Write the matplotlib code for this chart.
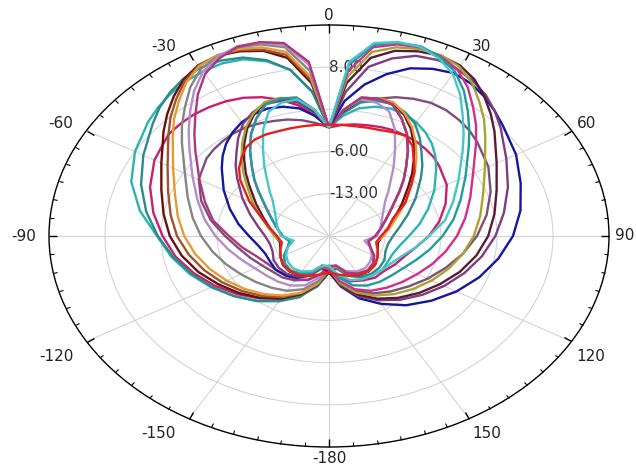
import matplotlib
matplotlib.use("Agg")
import matplotlib.pyplot as plt
import numpy as np

theta_deg = [-180, -170, -160, -150, -140, -130, -120, -110, -100, -90, -80, -70, -60, -50,
             -45, -40, -35, -30, -25, -20, -15, -10, -5, 0, 5, 10, 15, 20, 25, 30, 35, 40, 45,
             50, 60, 70, 80, 90, 100, 110, 120, 130, 140, 150, 160, 170]

# beams tilted to the left
teal_l = [-14, -11.5, -9.5, -7.6, -6, -4.5, -3, -1.5, 0, 1.5, 4, 6.3, 8, 9.5,
          10.2, 10.8, 11.3, 11.5, 11.6, 11.2, 10, 8, 4, -2, 0, 1.5, 2.2, 2.5, 2.3, 1.8, 1, 0, -1.2,
          -2.5, -4.8, -6.8, -8.5, -10, -11, -11.5, -11.5, -11.3, -11.5, -12, -13, -15]
darkteal_l = [-14, -11.6, -9.2, -7.5, -5.9, -4.5, -3.1, -1.7, -0.2, 1.4, 3.2, 5, 6.8, 8.8,
              10, 11, 11.8, 12.2, 12.1, 11.5, 10.2, 8, 4, -2, 0.5, 2.5, 3.2, 3.3, 2.6, 1.5, -0.2, -2,
              -3.5, -5, -7.5, -9.5, -11, -12, -12.5, -12.5, -12, -11.8, -11.8, -12.2, -13, -14.5]
maroon_l = [-14, -11.8, -9.7, -8, -6.6, -5.3, -4, -2.6, -1.3, -0.1, 1, 2.3, 4.2, 7,
            8.6, 10.2, 11.7, 12.7, 13, 12.6, 11.8, 10, 5.5, -2, 0.8, 3, 3.6, 3.5, 2.2, 0.5, -1.5,
            -3.5, -5.3, -7, -9.5, -11.3, -12.5, -13.3, -13.8, -13.5, -13, -12.5, -12.3, -12.5,
            -13.3, -14.8]
brown_l = [-14.2, -11.9, -9.9, -8.3, -7, -5.8, -4.6, -3.4, -2.2, -1, 0.1, 1.4, 3.3, 6.2,
           8, 9.7, 11.4, 12.6, 13, 12.8, 12, 10.5, 6, -2, 1, 3.3, 3.6, 3.2, 1.5, -0.5, -2.8, -5,
           -6.8, -8.5, -11, -12.5, -13.5, -14.2, -15, -14.5, -13.5, -12.8, -12.5, -12.8, -13.5, -15]
orange_l = [-14.5, -12, -10, -8.6, -7.4, -6.3, -5.2, -4.1, -3, -1.9, -0.8, 0.5, 2.5, 5.5,
            7.4, 9.2, 11.1, 12.5, 13.1, 13, 12.4, 11, 6.5, -2, 1, 3.2, 3.7, 3.6, 2.4, 0.8, -1.1, -3,
            -4.8, -6.5, -9, -11, -12.3, -13.2, -14, -13.6, -13, -12.6, -12.4, -12.6, -13.4, -14.8]
gray_l = [-14.5, -12.4, -10.6, -9.5, -8.8, -8.1, -7.3, -6.3, -5.2, -4, -2.7, -1.2, 0.8, 4,
          6, 8, 10.2, 12, 12.9, 13.3, 12.9, 11.8, 7.5, -2, 1, 3.3, 3.6, 3.2, 1.5, -0.5, -2.8, -5,
          -6.8, -8.5, -11, -12.5, -13.5, -14.2, -15, -14.5, -13.5, -12.8, -12.5, -12.8, -13.5, -15]
plum_l = [-15, -13, -11.3, -10.5, -10.1, -9.8, -9.3, -8.4, -7.2, -5.8, -4.2, -2.5, -0.3, 2.8,
          4.8, 7, 9.4, 11.5, 12.8, 13.5, 13.2, 12.2, 8.5, -2, 1, 3, 2.9, 2, -0.5, -3.5, -5.9, -8,
          -9.5, -10.8, -12.2, -13, -13.5, -14, -15.5, -14.5, -13.8, -13.3, -13, -13.2, -13.8, -15]
magenta_l = [-15, -13.5, -12.2, -11.7, -11.5, -11.3, -11, -10.3, -9, -7.5, -5.3, -3.5, -1.3, 1.8,
             3.8, 6, 8.6, 11, 12.5, 13.4, 13.3, 12.5, 9, -2, 1, 3.3, 3.6, 3.2, 1.5, -0.5, -2.8, -5,
             -6.8, -8.5, -11, -12.5, -13.5, -14.2, -15, -14.5, -13.5, -12.8, -12.5, -12.8, -13.5,
             -15]
crimson = [-14, -11.5, -9.5, -8, -6.5, -5, -3.5, -2, -0.5, 0.8, 2.3, 3.8, 5.2, 6.2,
           6.3, 6.3, 6.1, 5.8, 5.3, 4.5, 3.4, 2, 0, -2, -1.5, -1.2, -1, -0.8, -0.7, -0.8, -0.9,
           -1.2, -1.5, -2, -3, -4.5, -6, -7.5, -9, -10, -10.5, -11, -11, -11.5, -12, -13]

# beams tilted to the right
navy = [-14, -15, -13, -12, -11.5, -11.3, -11.5, -11.5, -11, -10, -8.5, -6.8, -4.8, -2.5,
        -1.2, 0, 1, 1.8, 2.3, 2.5, 2.2, 1.5, 0, -2, 2.5, 5.5, 7.8, 9.6, 10.6, 11.2, 10.9, 10.2,
        9.3, 8.4, 7, 5.5, 4.3, 3, 1.5, 0, -1.6, -3.3, -5, -7, -9, -11.5]
purple = [-14, -14.5, -13, -12.2, -11.8, -11.8, -12, -12.5, -12.5, -12, -11, -9.5, -7.5, -5,
          -3.5, -2, -0.2, 1.5, 2.6, 3.3, 3.2, 2.5, 0.5, -2, 4, 8.5, 10.5, 11.8, 12.2, 12, 11.4,
          10.5, 9.3, 8, 5.6, 3.8, 2.2, 0.8, -0.6, -2, -3.4, -4.8, -6.2, -7.7, -9.4, -11.7]
darkmaroon_r = [-14, -14.8, -13.3, -12.5, -12.3, -12.5, -13, -13.5, -13.8, -13.3, -12.5, -11.3,
                -9.5, -7, -5.3, -3.5, -1.5, 0.5, 2.2, 3.5, 3.6, 3, 0.8, -2, 5.5, 10, 11.8, 12.6, 13,
                12.7, 11.7, 10.2, 8.6, 7, 4.2, 2.3, 1, -0.1, -1.3, -2.6, -4, -5.3, -6.6, -8, -9.7,
                -11.8]
olive_r = [-14.5, -14.8, -13.4, -12.6, -12.4, -12.6, -13, -13.6, -14, -13.2, -12.3, -11, -9, -6.5,
           -4.8, -3, -1.1, 0.8, 2.4, 3.6, 3.7, 3.2, 1, -2, 6.5, 11, 12.4, 13, 13.1, 12.5, 11.1,
           9.2, 7.4, 5.5, 2.5, 0.5, -0.8, -1.9, -3, -4.1, -5.2, -6.3, -7.4, -8.6, -10, -12]
magenta_r = [-14.5, -15, -13.5, -12.8, -12.5, -12.8, -13.5, -14.5, -15, -14.2, -13.5, -12.5, -11,
             -8.5, -6.8, -5, -2.8, -0.5, 1.5, 3.2, 3.6, 3.3, 1, -2, 7.5, 11.8, 12.9, 13.3, 12.9, 12,
             10.2, 8, 6, 4, 0.8, -1.2, -2.7, -4, -5.2, -6.3, -7.3, -8.1, -8.8, -9.5, -10.6, -12.4]
teal_r = [-15, -15, -13.5, -12.8, -12.5, -12.8, -13.5, -14.5, -15, -14.2, -13.5, -12.5, -11, -8.5,
          -6.8, -5, -2.8, -0.5, 1.5, 3.2, 3.6, 3.3, 1, -2, 8.5, 12.2, 13.2, 13.5, 12.8, 11.5, 9.4,
          7, 4.8, 2.8, -0.3, -2.5, -4.2, -5.8, -7.2, -8.4, -9.3, -9.8, -10.1, -10.5, -11.3, -13]
cyan_r = [-15, -15, -13.8, -13.2, -13, -13.3, -13.8, -14.5, -15.5, -14, -13.5, -13, -12.2, -10.8,
          -9.5, -8, -5.9, -3.5, -0.5, 2, 2.9, 3, 1, -2, 9, 12.5, 13.3, 13.4, 12.5, 11, 8.6, 6,
          3.8, 1.8, -1.3, -3.5, -5.3, -7.5, -9, -10.3, -11, -11.3, -11.5, -11.7, -12.2, -13.5]
mauve_r = [-14, -13.5, -12.3, -11.5, -11, -10.8, -10.3, -9.5, -8.5, -7, -5, -3, -1.2, 0,
           0.35, 0.6, 0.8, 0.8, 0.6, 0.3, 0, -0.5, -1.2, -2, 0.5, 2.5, 3.6, 4.5, 5.1, 5.5, 5.5,
           5.2, 4.8, 4.2, 3, 1.5, 0, -1.5, -3, -4.5, -5.8, -7, -8, -9, -10.3, -12]

# nearly symmetric pattern
red = [-14, -13.5, -13, -12.5, -12.5, -12.5, -13, -13.5, -14, -13.5, -12.5, -11, -8.5, -5.5,
       -4.1, -3, -2, -1.5, -1.4, -1.5, -1.5, -1.5, -1.5, -1.5, -1.5, -1.5, -1.4, -1.3, -1, -0.8,
       -1.8, -3.5, -4.9, -6.5, -9, -11.5, -12.5, -13.5, -14, -13.5, -13, -12.5, -12.5, -12.5,
       -13, -13.5]

curves = [
    (mauve_r, "#7d4f78"), (crimson, "#c81e6e"),
    (teal_l, "#2ab3b3"), (darkteal_l, "#2b8a8e"), (maroon_l, "#6a0e0e"), (brown_l, "#a0522d"),
    (orange_l, "#e59a35"), (gray_l, "#858585"), (plum_l, "#b58cc9"), (magenta_l, "#b0357f"),
    (navy, "#1515a0"), (purple, "#7e3d80"), (darkmaroon_r, "#5a1a35"), (olive_r, "#a8a430"),
    (magenta_r, "#d42d8d"), (teal_r, "#1f9c9c"), (cyan_r, "#45c6c8"),
    (red, "#e61e1e"),
]

r_ticks = [-13, -6, 1, 8]
r_labels = {-13: "-13.00", -6: "-6.00", 8: "8.00"}
theta_ticks = [0, 30, 60, 90, 120, 150, 180, 210, 240, 270, 300, 330]
theta_labels = ["0", "30", "60", "90", "120", "150", "-180", "-150", "-120", "-90", "-60", "-30"]

fig = plt.figure(figsize=(6.36, 4.70), dpi=100)
ax = fig.add_axes([49 / 636, 23 / 470, 560 / 636, 422 / 470], projection="polar")
ax.set_aspect("auto")
ax.set_theta_zero_location("N")
ax.set_theta_direction(-1)
ax.set_ylim(-20, 15)

th = np.deg2rad(theta_deg + [180])
for vals, col in curves:
    ax.plot(th, vals + [vals[0]], color=col, lw=1.7, zorder=3)

# grid + ticks on the outer ring
ax.set_yticks(r_ticks)
ax.set_yticklabels([])
ax.set_xticks(np.deg2rad(theta_ticks))
ax.set_xticks(np.deg2rad(np.arange(0, 360, 5)), minor=True)
ax.set_xticklabels([])
ax.grid(True, which="major", color="#d4d4d4", lw=0.8, ls="-")
ax.xaxis.set_ticks_position("top")
ax.tick_params(axis="x", which="major", direction="in", length=6, width=1)
ax.tick_params(axis="x", which="minor", direction="in", length=3, width=0.8)
ax.spines["polar"].set_linewidth(1.0)
ax.spines["polar"].set_color("black")

# angle labels: right side hugs the ring, left side sits further out,
# labels in the lower half hang below the ring
for ang, lab in zip(theta_ticks, theta_labels):
    s, c = np.sin(np.deg2rad(ang)), np.cos(np.deg2rad(ang))
    if ang == 0:
        dx, dy, ha = 0, 6.5, "center"
    elif ang == 180:
        dx, dy, ha = 0, -8.3, "center"
    else:
        dy = 0 if ang in (90, 270) else (5 if c > 0 else -10.8)
        if ang < 180:
            dx, ha = 4.3 * s, "left"
        else:
            dx, ha = -9.4, "right"
    ax.annotate(lab, xy=(np.deg2rad(ang), 15), xytext=(dx, dy), textcoords="offset points",
                ha=ha, va="center", fontsize=11, color="#222222", annotation_clip=False)

for r, txt in r_labels.items():
    ax.text(0, r, txt, ha="left", va="center", fontsize=11, color="#333333", zorder=2)

fig.savefig("out.png", dpi=100)
